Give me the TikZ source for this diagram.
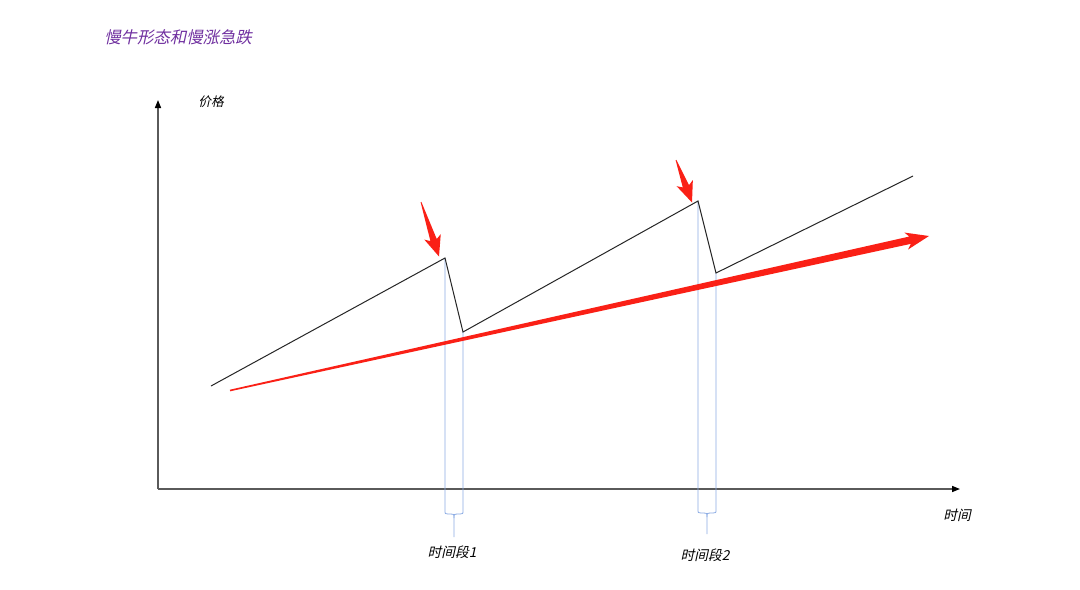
\documentclass[tikz,border=0pt]{standalone}
\usepackage{fontspec}
\newfontfamily\cjk[FakeSlant=0.22]{Noto Sans CJK SC}
\usetikzlibrary{calc,arrows.meta}
\definecolor{trendred}{RGB}{250,32,22}
\definecolor{titlepurple}{RGB}{112,48,160}
\definecolor{guideblue}{RGB}{140,172,228}
\definecolor{axisgray}{RGB}{90,90,90}
\tikzset{
  axisline/.style={axisgray,line width=1.1pt,-{Triangle[length=6pt,width=4.5pt,black]}},
  priceline/.style={black!85,line width=0.75pt,line join=miter},
  guide/.style={guideblue,line width=0.6pt},
  lbl/.style={font=\cjk\fontsize{10.3}{12}\selectfont,inner sep=0pt},
  redfill/.style={fill=trendred,draw=none}
}
\newcommand{\taperarrow}[8]{% tail, tip, tailhw, shafthw, baselen, winglen, headhw
  \coordinate (#8T) at #1;
  \coordinate (#8P) at #2;
  \coordinate (#8B) at ($(#8P)!#5!(#8T)$);
  \coordinate (#8W) at ($(#8P)!#6!(#8T)$);
  \fill[redfill] ($(#8T)!#3!90:(#8P)$) -- ($(#8B)!#4!90:(#8P)$) -- ($(#8W)!#7!90:(#8P)$) -- (#8P)
     -- ($(#8W)!#7!-90:(#8P)$) -- ($(#8B)!#4!-90:(#8P)$) -- ($(#8T)!#3!-90:(#8P)$) -- cycle;
}
\begin{document}
\begin{tikzpicture}[x=0.75pt,y=-0.75pt]
\fill[white] (0,0) rectangle (1080,589);
\useasboundingbox (0,0) rectangle (1080,589);

% title
\node[font=\cjk\fontsize{12.3}{14}\selectfont,text=titlepurple,anchor=west,inner sep=0pt] (title) at (104,37) {慢牛形态和慢涨急跌};

% axes
\coordinate (origin) at (158,489);
\coordinate (ytop) at (158,100);
\coordinate (xend) at (960,489);
\draw[axisline] (origin) -- (ytop);
\draw[axisline] (origin) -- (xend);
\node[lbl,font=\cjk\fontsize{9.5}{11}\selectfont] (ylab) at (211,102) {价格};
\node[lbl] (xlab) at (957,515) {时间};

% guide lines and braces
\coordinate (p1) at (445,258);
\coordinate (t1) at (463,332);
\coordinate (p2) at (698,201);
\coordinate (t2) at (716,273);
\coordinate (e0) at (211,386);
\coordinate (e1) at (913,176);

\draw[guide] (p1) -- (445,510) .. controls (445,514) .. (448,514) -- (451,514) .. controls (454,514) .. (454,518) -- (454,537);
\draw[guide] (t1) -- (463,510) .. controls (463,514) .. (460,514) -- (457,514) .. controls (454,514) .. (454,518);
\draw[guide] (p2) -- (698,509) .. controls (698,513) .. (701,513) -- (704,513) .. controls (707,513) .. (707,517) -- (707,534);
\draw[guide] (t2) -- (716,509) .. controls (716,513) .. (713,513) -- (710,513) .. controls (707,513) .. (707,517);

\node[lbl] (seg1) at (452,552) {时间段1};
\node[lbl] (seg2) at (705,555) {时间段2};

% price path
\draw[priceline] (e0) -- (p1) -- (t1) -- (p2) -- (t2) -- (e1);

% trend arrow
\taperarrow{(230,390.5)}{(929,236)}{0.6pt}{2.8pt}{14.5pt}{17.5pt}{6.5pt}{tr}
% down arrows
\taperarrow{(421,202)}{(439,256.5)}{0.3pt}{2.5pt}{13pt}{15.5pt}{6.5pt}{da}
\taperarrow{(676,160)}{(692,202.5)}{0.3pt}{2.5pt}{13pt}{15.5pt}{6.5pt}{db}
\end{tikzpicture}
\end{document}
